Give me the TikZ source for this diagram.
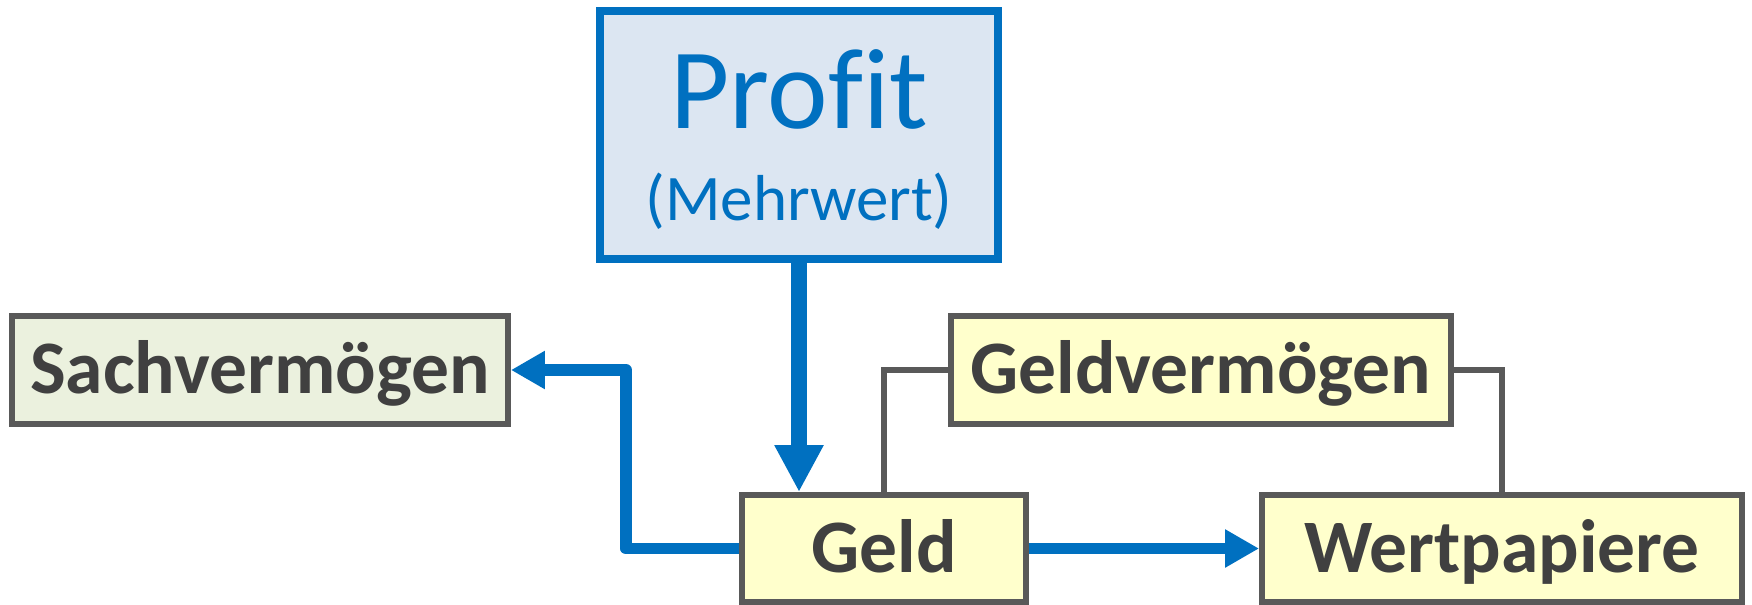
\documentclass[tikz,border=0pt]{standalone}
\usepackage{fontspec}
\setmainfont{Carlito}[Ligatures=NoCommon]
\usepackage{xcolor}
\usetikzlibrary{arrows.meta, positioning}
\definecolor{flowblue}{HTML}{0070C0}
\definecolor{profitfill}{HTML}{DCE6F2}
\definecolor{sachfill}{HTML}{EBF1DE}
\definecolor{geldfill}{HTML}{FFFFCC}
\definecolor{boxgray}{HTML}{595959}
\definecolor{textgray}{HTML}{404040}

\begin{document}
\begin{tikzpicture}[x=0.02cm, y=-0.02cm,
		box/.style={shape=rectangle, draw=boxgray, line width=3.4pt, inner sep=0pt, text=textgray,
			font=\bfseries\fontsize{43pt}{47pt}\selectfont, text height=0.94cm, text depth=0pt, minimum height=2.16cm},
		flow/.style={draw=flowblue, line width=6.8pt, line join=round, -{Triangle[length=0.68cm, width=0.72cm]}},
		link/.style={draw=boxgray, line width=3.4pt}]
	\useasboundingbox (0, 0) rectangle (1752, 605);
	% Boxes:
	\node[shape=rectangle, draw=flowblue, fill=profitfill, line width=4.54pt, minimum width=7.96cm, minimum height=4.96cm](profit) at (799, 135){};
	\node[anchor=base, text=flowblue, font=\fontsize{65.3pt}{70pt}\selectfont](profitA) at (799, 128){Profit};
	\node[anchor=base, text=flowblue, font=\fontsize{37pt}{42pt}\selectfont](profitB) at (799, 220){(Mehrwert)};
	\node[box, fill=sachfill, minimum width=9.92cm](sach) at (260, 370){Sachverm\"ogen};
	\node[box, fill=geldfill, minimum width=10cm](geldv) at (1201, 370){Geldverm\"ogen};
	\node[box, fill=geldfill, minimum width=5.68cm, minimum height=2.14cm](geld) at (884, 548.5){Geld};
	\node[box, fill=geldfill, minimum width=9.6cm, minimum height=2.14cm](wert) at (1502, 548.5){Wertpapiere};
	\coordinate (bend) at (626, 370);
	% Wires:
	\draw[link] (geld.north) |- (geldv.west);
	\draw[link] (geldv.east) -| (wert.north);
	\draw[flow, line width=9.1pt, -{Triangle[length=0.94cm, width=0.92cm]}] (profit.south) -- (profit.south |- geld.north);
	\draw[flow] (geld.west) -| (bend) -- (sach.east);
	\draw[flow] (geld.east) -- (wert.west);
\end{tikzpicture}
\end{document}
